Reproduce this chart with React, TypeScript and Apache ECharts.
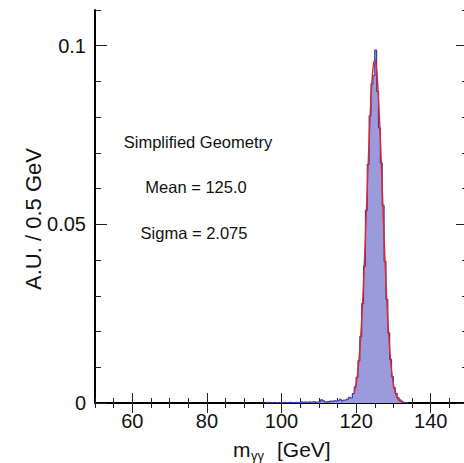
import React, { useEffect, useRef } from "react";
import * as echarts from "echarts";

// histogram: lower bin edges (GeV) and contents (A.U. per 0.5 GeV)
const binLow: number[] = [
  95.5, 96.0, 96.5, 97.0, 97.5, 98.0, 98.5, 99.0, 99.5, 100.0, 100.5, 101.0,
  101.5, 102.0, 102.5, 103.0, 103.5, 104.0, 104.5, 105.0, 105.5, 106.0, 106.5,
  107.0, 107.5, 108.0, 108.5, 109.0, 109.5, 110.0, 110.5, 111.0, 111.5, 112.0,
  112.5, 113.0, 113.5, 114.0, 114.5, 115.0, 115.5, 116.0, 116.5, 117.0, 117.5,
  118.0, 118.5, 119.0, 119.5, 120.0, 120.5, 121.0, 121.5, 122.0, 122.5, 123.0,
  123.5, 124.0, 124.5, 125.0, 125.5, 126.0, 126.5, 127.0, 127.5, 128.0, 128.5,
  129.0, 129.5, 130.0, 130.5, 131.0, 131.5, 132.0, 132.5, 133.0, 133.5, 134.0,
];
const binValue: number[] = [
  0, 0.0002, 0, 0.0001, 0, 0, 0.0001, 0, 0.0001, 0, 0.0002, 0.0001,
  0, 0.0002, 0.0001, 0.0001, 0.0002, 0.0001, 0.0002, 0.0003, 0.0002, 0.0003, 0.0002,
  0.0003, 0.0002, 0.0003, 0.0004, 0.0002, 0.0003, 0.0004, 0.0009, 0.0006, 0.0003, 0.0004,
  0.0003, 0.0005, 0.0004, 0.0006, 0.0005, 0.0007, 0.001, 0.0006, 0.0008, 0.0009, 0.0011,
  0.0016, 0.0014, 0.0026, 0.0045, 0.0072, 0.0118, 0.0186, 0.0278, 0.0383, 0.0539, 0.0668,
  0.0804, 0.0893, 0.0916, 0.0988, 0.0872, 0.077, 0.0672, 0.0553, 0.0397, 0.029, 0.0196,
  0.0122, 0.0074, 0.0043, 0.0027, 0.0015, 0.0009, 0.0005, 0.0002, 0.0001, 0, 0,
];

// gaussian fit curve
const fitX: number[] = [
  119.5, 120.0, 120.5, 121.0, 121.5, 122.0, 122.5, 123.0, 123.5, 124.0, 124.5,
  125.0, 125.5, 126.0, 126.5, 127.0, 127.5, 128.0, 128.5, 129.0, 129.5, 130.0,
  130.5, 131.0, 131.5, 132.0, 132.5,
];
const fitY: number[] = [
  0.0029, 0.0053, 0.0091, 0.015, 0.0232, 0.0338, 0.0465, 0.0604, 0.074, 0.0855, 0.0933,
  0.0961, 0.0933, 0.0855, 0.074, 0.0604, 0.0465, 0.0338, 0.0232, 0.015, 0.0091, 0.0053,
  0.0029, 0.0015, 0.0007, 0.0003, 0.0001,
];

const xMajorTicks: number[] = [60, 80, 100, 120, 140];
const yMajorTicks: number[] = [0, 0.05, 0.1];
const notes: string[] = ["Simplified Geometry", "Mean = 125.0", "Sigma = 2.075"];

const FONT = "'Liberation Sans', Arial, sans-serif";

const App: React.FC = () => {
  const chartRef = useRef<HTMLDivElement>(null);

  useEffect(() => {
    const chartDom = chartRef.current;
    if (!chartDom) return;
    const myChart = echarts.init(chartDom, undefined, { renderer: "svg" });

    const axisLine = { show: true, lineStyle: { color: "#000", width: 2 } };
    const tickStyle = { color: "#222", width: 1 };

    const majorX = (position: "bottom" | "top", labels: boolean): any => ({
      type: "value",
      position,
      min: 50,
      max: 150,
      axisLine,
      splitLine: { show: false },
      axisTick: { show: true, inside: true, length: 10, lineStyle: tickStyle, customValues: xMajorTicks },
      axisLabel: {
        show: labels,
        customValues: xMajorTicks,
        fontSize: 20,
        color: "#111",
        fontFamily: FONT,
        margin: 8,
      },
    });
    const minorX = (position: "bottom" | "top"): any => ({
      type: "value",
      position,
      min: 50,
      max: 150,
      interval: 5,
      axisLine: { show: false },
      splitLine: { show: false },
      axisTick: { show: true, inside: true, length: 5, lineStyle: tickStyle },
      axisLabel: { show: false },
    });
    const majorY = (position: "left" | "right", labels: boolean): any => ({
      type: "value",
      position,
      min: 0,
      max: 0.11,
      axisLine,
      splitLine: { show: false },
      axisTick: { show: true, inside: true, length: 12, lineStyle: tickStyle, customValues: yMajorTicks },
      axisLabel: {
        show: labels,
        customValues: yMajorTicks,
        fontSize: 20,
        color: "#111",
        fontFamily: FONT,
        margin: 9,
      },
    });
    const minorY = (position: "left" | "right"): any => ({
      type: "value",
      position,
      min: 0,
      max: 0.11,
      interval: 0.01,
      axisLine: { show: false },
      splitLine: { show: false },
      axisTick: { show: true, inside: true, length: 6, lineStyle: tickStyle },
      axisLabel: { show: false },
    });

    const histData = binLow.map((x, i) => [x, binValue[i]]);
    const fitData = fitX.map((x, i) => [x, fitY[i]]);

    const noteStyle = { fontSize: 16.5, fontFamily: FONT, fill: "#111", align: "center", verticalAlign: "middle" };

    const option: any = {
      animation: false,
      backgroundColor: "#fff",
      grid: { left: 95, top: 10, width: 373, height: 393 },
      xAxis: [majorX("bottom", true), minorX("bottom"), majorX("top", false), minorX("top")],
      yAxis: [majorY("left", true), minorY("left"), majorY("right", false), minorY("right")],
      series: [
        {
          name: "histogram",
          type: "line",
          step: "end",
          data: histData,
          symbol: "none",
          lineStyle: { color: "#3f3fa6", width: 1.2 },
          areaStyle: { color: "#9b9bdc", opacity: 1 },
        },
        {
          name: "fit",
          type: "line",
          smooth: 0.3,
          data: fitData,
          symbol: "none",
          lineStyle: { color: "#e3262b", width: 1.4 },
          z: 3,
        },
      ],
      graphic: [
        {
          type: "text",
          x: 33,
          y: 219,
          rotation: Math.PI / 2,
          style: {
            text: "A.U. / 0.5 GeV",
            fontSize: 22,
            fontFamily: FONT,
            fill: "#111",
            align: "center",
            verticalAlign: "middle",
          },
        },
        {
          type: "text",
          x: 233,
          y: 449,
          style: { text: "m", fontSize: 21, fontFamily: FONT, fill: "#111", verticalAlign: "middle" },
        },
        {
          type: "text",
          x: 251,
          y: 455,
          style: { text: "γγ", fontSize: 13, fontFamily: FONT, fill: "#111", verticalAlign: "middle" },
        },
        {
          type: "text",
          x: 277,
          y: 449,
          style: { text: "[GeV]", fontSize: 21, fontFamily: FONT, fill: "#111", verticalAlign: "middle" },
        },
        { type: "text", x: 198, y: 142, style: { ...noteStyle, text: notes[0] } },
        { type: "text", x: 196, y: 187, style: { ...noteStyle, text: notes[1] } },
        { type: "text", x: 194, y: 233, style: { ...noteStyle, text: notes[2] } },
      ],
    };

    myChart.setOption(option);

    return () => {
      myChart.dispose();
    };
  }, []);

  return (
    <div
      style={{
        position: "fixed",
        left: 0,
        top: 0,
        width: 464,
        height: 463,
        overflow: "hidden",
        background: "#fff",
      }}
    >
      <div ref={chartRef} style={{ width: 472, height: 463 }} />
    </div>
  );
};

export default App;
